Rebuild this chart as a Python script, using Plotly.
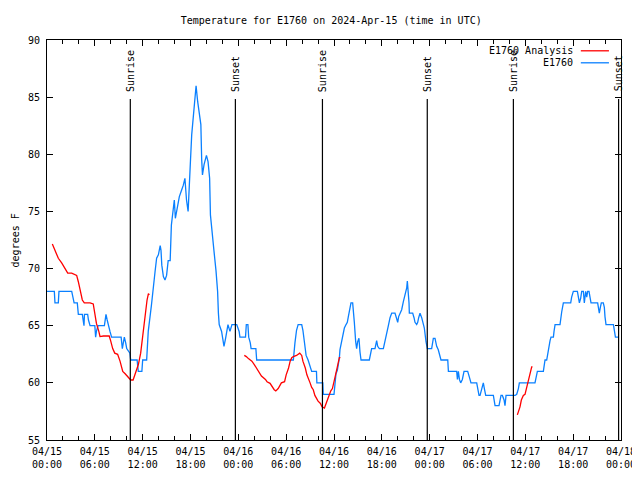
import pandas as pd
import plotly.graph_objects as go

BASE = pd.Timestamp("2024-04-15 00:00")

# ---- E1760 observations (hours since 04/15 00:00 UTC, degrees F)
obs_hours = [0.0, 0.92, 1.0, 1.42, 1.5, 3.1, 3.25, 3.4, 3.8, 3.85, 3.93, 4.43, 4.55, 4.64, 4.7, 5.1, 5.2, 5.4,
             6.0, 6.1, 6.2, 6.4, 7.2, 7.3, 7.4, 7.55, 7.7, 7.9, 8.1, 9.3, 9.45, 9.7, 9.87, 10.0, 10.4, 10.5,
             11.3, 11.45, 11.9, 12.0, 12.5, 12.7, 13.1, 13.3, 13.55, 13.75, 13.97, 14.2, 14.3, 14.4, 14.6,
             14.8, 15.0, 15.2, 15.45, 15.6, 15.85, 15.97, 16.1, 16.35, 16.6, 16.9, 17.1, 17.3, 17.5, 17.7,
             17.85, 18.0, 18.15, 18.4, 18.6, 18.7, 18.9, 19.0, 19.3, 19.4, 19.5, 19.7, 19.9, 20.0, 20.2,
             20.4, 20.5, 20.8, 20.95, 21.2, 21.4, 21.5, 21.6, 21.9, 22.1, 22.2, 22.4, 22.6, 22.7, 22.95,
             23.2, 23.8, 24.1, 24.2, 24.9, 25.0, 25.2, 25.3, 25.5, 25.6, 26.2, 26.3, 30.9, 31.1, 31.3,
             31.5, 31.95, 32.1, 32.3, 32.5, 32.75, 33.0, 33.2, 33.8, 33.85, 34.6, 34.65, 36.0, 36.05,
             36.13, 36.25, 36.42, 36.67, 36.75, 36.96, 37.17, 37.30, 37.51, 37.67, 37.80, 38.01, 38.13,
             38.34, 38.43, 38.55, 38.72, 38.84, 38.97, 39.13, 39.26, 39.39, 40.43, 40.52, 40.72, 41.14,
             41.35, 41.48, 41.69, 42.19, 42.40, 42.61, 42.82, 43.03, 43.24, 43.65, 43.86, 43.99, 44.11,
             44.28, 44.49, 44.70, 44.91, 45.12, 45.20, 45.33, 45.41, 45.45, 45.87, 46.04, 46.16, 46.37,
             46.50, 46.62, 46.79, 47.00, 47.12, 47.33, 47.54, 47.71, 48.25, 48.46, 48.67, 48.88, 49.08,
             49.30, 49.42, 50.27, 50.35, 51.39, 51.48, 51.60, 51.73, 51.89, 52.10, 52.31, 52.77, 52.98,
             53.18, 53.90, 54.02, 54.19, 54.32, 54.53, 54.73, 54.86, 55.03, 55.99, 56.20, 56.70, 56.95,
             57.12, 57.33, 57.45, 57.58, 58.71, 58.92, 59.13, 59.25, 61.21, 61.34, 61.51, 62.26, 62.34,
             62.47, 62.68, 62.76, 62.97, 63.10, 63.22, 63.52, 63.60, 63.73, 64.35, 64.43, 64.56, 64.77,
             65.69, 65.81, 66.02, 66.53, 66.65, 66.78, 66.94, 67.07, 67.28, 67.40, 67.57, 67.70, 67.82,
             67.99, 68.11, 68.24, 69.07, 69.16, 69.28, 69.41, 69.53, 69.78, 69.91, 69.99, 70.12, 71.05,
             71.17, 71.30, 71.75]
obs_temps = [68.0, 68.0, 67.0, 67.0, 68.0, 68.0, 67.5, 67.0, 67.0, 66.5, 66.0, 66.0, 65.5, 65.0, 66.0, 66.0, 65.5, 65.0,
             65.0, 64.0, 64.5, 65.0, 65.0, 65.5, 66.0, 65.5, 65.0, 64.5, 64.0, 64.0, 63.0, 64.0, 63.5, 63.0, 62.6, 62.0,
             62.0, 61.0, 61.0, 62.0, 62.0, 64.5, 66.8, 68.4, 69.7, 70.9, 71.2, 72.0, 71.6, 70.3, 69.3,
             69.0, 69.4, 70.7, 70.7, 73.8, 75.3, 76.0, 74.4, 75.4, 76.3, 76.9, 77.3, 77.9, 76.0, 75.0,
             78.2, 79.5, 81.7, 84.0, 85.5, 86.0, 84.6, 84.0, 82.6, 79.6, 78.2, 79.1, 79.7, 79.9, 79.35,
             77.9, 74.7, 72.9, 71.5, 69.8, 68.0, 66.1, 65.1, 64.5, 63.3, 63.2, 63.9, 64.8, 65.1, 64.5,
             65.1, 65.1, 64.5, 64.0, 64.0, 65.1, 65.1, 64.0, 63.5, 63.0, 63.0, 62.0, 62.0, 63.5, 64.6,
             65.1, 65.1, 64.6, 63.5, 62.4, 62.0, 61.5, 61.0, 61.0, 60.0, 60.0, 59.0, 59.0, 59.5,
             60.25, 60.8, 61.1, 62.15, 62.9, 63.6, 64.2, 64.8, 65.1, 65.3, 65.8, 66.4, 67.0,
             67.0, 66.4, 65.3, 63.6, 63.0, 63.6, 63.9, 62.7, 62.0, 62.0, 62.4, 63.0, 63.0,
             63.7, 63.2, 63.0, 63.0, 63.6, 64.3, 65.0, 65.7, 66.1, 66.1, 65.7, 65.3, 65.8,
             66.1, 66.4, 67.1, 67.8, 68.3, 68.9, 68.0, 67.0, 66.1, 66.1, 65.7, 65.3, 65.1,
             65.3, 65.7, 66.1, 65.7, 65.3, 64.8, 63.6, 63.0, 63.0, 63.9, 63.9, 63.2, 62.9,
             62.4, 62.0, 62.0, 61.0, 61.0, 60.3, 61.0, 60.3, 60.0, 60.3, 61.0, 61.0, 60.5,
             60.0, 60.0, 59.5, 58.9, 58.9, 59.4, 60.0, 59.5, 58.9, 58.9, 58.0, 58.0, 58.9,
             58.9, 58.5, 58.0, 58.9, 58.9, 59.0, 59.5, 60.0, 60.0, 60.6, 61.0, 61.0, 61.5,
             62.0, 62.0, 62.4, 63.2, 63.7, 64.0, 64.0, 64.5, 65.1, 65.1, 65.8, 66.2, 67.0,
             67.0, 67.5, 68.0, 68.0, 67.4, 67.0, 67.4, 68.0, 68.0, 67.0, 68.0, 67.5, 68.0,
             68.0, 67.5, 67.0, 67.0, 66.6, 66.1, 66.6, 67.0, 67.0, 66.6, 65.8, 65.1, 65.1,
             64.6, 64.0, 64.0]

# ---- E1760 Analysis (three separate runs)
ana1_hours = [0.67, 1.0, 1.42, 1.84, 2.26, 2.6, 3.1, 3.72, 3.93, 4.2, 4.43, 4.68, 5.4, 5.8, 6.0, 6.2, 6.5,
              6.65, 7.07, 7.8, 7.98, 8.24, 8.5, 8.86, 9.16, 9.5, 9.8, 10.1, 10.5, 10.8, 11.1, 11.46, 11.75,
              11.96, 12.2, 12.35, 12.55, 12.72, 12.84]
ana1_temps = [72.15, 71.6, 70.9, 70.5, 70.0, 69.6, 69.6, 69.4, 68.85, 68.0, 67.25, 67.0, 67.0, 66.9, 66.1, 65.2, 64.5,
              64.05, 64.1, 64.1, 63.7, 63.0, 62.6, 62.5, 61.9, 61.0, 60.8, 60.6, 60.25, 60.25, 60.8, 61.6, 62.6,
              63.75, 65.2, 66.3, 67.25, 67.8, 67.7]
ana2_hours = [24.75, 25.0, 25.3, 25.7, 26.0, 26.3, 26.6, 26.9, 27.4, 27.6, 27.98, 28.2, 28.5, 28.7, 29.0, 29.4,
              29.8, 30.0, 30.3, 30.5, 30.7, 30.9, 31.3, 31.7, 31.95, 32.1, 32.4, 32.6, 32.8, 33.0, 33.2, 33.4,
              33.6, 33.8, 34.0, 34.3, 34.5, 34.8, 35.0, 35.2, 35.4, 35.6, 35.8, 36.0, 36.13, 36.42, 36.67, 36.8]
ana2_temps = [62.4, 62.3, 62.1, 61.9, 61.6, 61.3, 61.0, 60.6, 60.3, 60.1, 59.96, 59.7, 59.4, 59.3, 59.5, 60.0,
              60.1, 60.7, 61.3, 61.9, 62.2, 62.3, 62.4, 62.6, 62.4, 61.9, 61.3, 60.7, 60.4, 60.0, 59.6, 59.4,
              58.9, 58.6, 58.4, 58.2, 57.9, 57.8, 58.2, 58.6, 58.9, 59.3, 59.5, 60.0, 60.5, 61.4, 62.2, 62.2]
ana3_hours = [59.0, 59.33, 59.5, 59.75, 59.96, 60.2, 60.4, 60.6, 60.8, 60.9]
ana3_temps = [57.2, 57.9, 58.5, 58.9, 59.0, 59.7, 60.25, 60.8, 61.4, 61.4]

# ---- Sun events (hours since 04/15 00:00 UTC)
sun_labels = ["Sunrise", "Sunset", "Sunrise", "Sunset", "Sunrise", "Sunset"]
sun_hours = [10.45, 23.63, 34.55, 47.7, 58.5, 71.7]

# ---- Axis ticks
x_tick_hours = [0, 6, 12, 18, 24, 30, 36, 42, 48, 54, 60, 66, 72]
x_tick_labels = ["04/15<br>00:00", "04/15<br>06:00", "04/15<br>12:00", "04/15<br>18:00",
                 "04/16<br>00:00", "04/16<br>06:00", "04/16<br>12:00", "04/16<br>18:00",
                 "04/17<br>00:00", "04/17<br>06:00", "04/17<br>12:00", "04/17<br>18:00",
                 "04/18<br>00:00"]
y_ticks = [55, 60, 65, 70, 75, 80, 85, 90]

legend_names = ["E1760 Analysis", "E1760"]
RED = "#ff0000"
BLUE = "#0a80ff"
FONT = "DejaVu Sans Mono"


def to_time(hours):
    return [BASE + pd.Timedelta(hours=h) for h in hours]


fig = go.Figure()
fig.add_trace(go.Scatter(x=to_time(obs_hours), y=obs_temps, mode="lines",
                         line=dict(color=BLUE, width=1.3), name=legend_names[1], showlegend=False))
for hrs, tmp in [(ana1_hours, ana1_temps), (ana2_hours, ana2_temps), (ana3_hours, ana3_temps)]:
    fig.add_trace(go.Scatter(x=to_time(hrs), y=tmp, mode="lines",
                             line=dict(color=RED, width=1.3), name=legend_names[0], showlegend=False))

# sunrise / sunset lines with labels
for lab, h in zip(sun_labels, sun_hours):
    t = BASE + pd.Timedelta(hours=h)
    fig.add_shape(type="line", xref="x", yref="y", x0=t, x1=t, y0=55, y1=84.84,
                  line=dict(color="black", width=1.2))
    fig.add_annotation(x=t, y=85.3, xref="x", yref="y", text=lab, textangle=-90,
                       showarrow=False, xanchor="center", yanchor="bottom",
                       font=dict(family=FONT, size=10, color="black"))

# manual gnuplot-style legend (text right-aligned, sample on the right)
for i, (name, col) in enumerate(zip(legend_names, [RED, BLUE])):
    yy = 0.973 - i * 0.03
    fig.add_annotation(x=0.919, y=yy, xref="paper", yref="paper", text=name, showarrow=False,
                       xanchor="right", yanchor="middle", font=dict(family=FONT, size=10, color="black"))
    fig.add_shape(type="line", xref="paper", yref="paper", x0=0.930, x1=0.979, y0=yy, y1=yy,
                  line=dict(color=col, width=1.3))

# y-axis title
fig.add_annotation(x=-0.055, y=0.5, xref="paper", yref="paper", text="degrees F", textangle=-90,
                   showarrow=False, xanchor="center", yanchor="middle",
                   font=dict(family=FONT, size=10, color="black"))

# page body has an 8px margin, so margins are shifted to keep the plot area at 47..621 x 40..440
fig.update_layout(
    width=640, height=480,
    margin=dict(l=39, r=27, t=32, b=48),
    paper_bgcolor="white", plot_bgcolor="white",
    font=dict(family=FONT, size=10, color="black"),
    title=dict(text="Temperature for E1760 on 2024-Apr-15 (time in UTC)", x=0.505, xanchor="center",
               y=0.975, yanchor="middle", font=dict(family=FONT, size=10, color="black")),
    showlegend=False,
)
fig.update_xaxes(
    range=[BASE, BASE + pd.Timedelta(hours=72)],
    tickmode="array", tickvals=to_time(x_tick_hours), ticktext=x_tick_labels,
    ticks="inside", ticklen=6, tickcolor="black", tickwidth=1,
    minor=dict(dtick=2 * 3600 * 1000, tick0=BASE, ticks="inside", ticklen=4, tickcolor="black"),
    showline=True, linecolor="black", linewidth=1, mirror="allticks",
    showgrid=False, zeroline=False, ticklabelstandoff=2, automargin=False,
    tickfont=dict(family=FONT, size=10, color="black"),
)
fig.update_yaxes(
    range=[55, 90], tickvals=y_ticks,
    ticks="inside", ticklen=6, tickcolor="black", tickwidth=1,
    showline=True, linecolor="black", linewidth=1, mirror="allticks",
    showgrid=False, zeroline=False, ticklabelstandoff=4, automargin=False,
    tickfont=dict(family=FONT, size=10, color="black"),
)

fig.write_html("out.html")
